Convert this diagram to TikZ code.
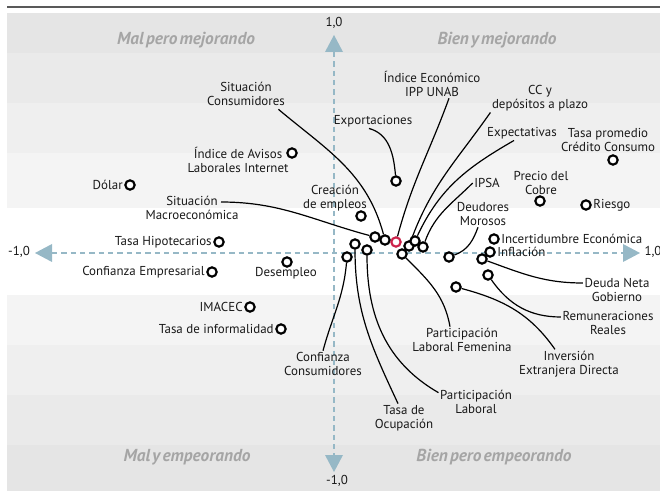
\documentclass[tikz,border=0pt]{standalone}
\usepackage{fontspec}
\setmainfont{PT Sans}
\newfontfamily\quadfont[WordSpace=0.5]{PT Sans}
\usetikzlibrary{positioning,calc}

\definecolor{axisblue}{RGB}{150,184,198}
\definecolor{quadgray}{RGB}{165,165,165}
\definecolor{ippred}{RGB}{205,35,75}
\definecolor{band1}{RGB}{229,229,229}
\definecolor{band2}{RGB}{234,234,234}
\definecolor{band3}{RGB}{239,239,239}
\definecolor{band4}{RGB}{244,244,244}

\tikzset{
    pt/.style={circle, draw=black, line width=1.6pt, fill=white, inner sep=0pt, minimum size=7pt},
    lbl/.style={font=\fontsize{9.7}{10.5}\selectfont, inner sep=1pt, align=center, text=black!90},
    quad/.style={font=\quadfont\fontsize{13}{14}\selectfont\bfseries\itshape, text=quadgray},
    conn/.style={line width=0.9pt},
    axisline/.style={axisblue, line width=1.2pt, dash pattern=on 4pt off 3pt},
}

\begin{document}
\begin{tikzpicture}[x=0.75pt, y=-0.75pt]
        \useasboundingbox (0,0) rectangle (660,491);
        % background bands
        \fill[band1] (7,13) rectangle (660,53);
        \fill[band2] (7,53) rectangle (660,103);
        \fill[band3] (7,103) rectangle (660,153);
        \fill[band4] (7,153) rectangle (660,208);
        \fill[band4] (7,295) rectangle (660,345);
        \fill[band3] (7,345) rectangle (660,395);
        \fill[band2] (7,395) rectangle (660,445);
        \fill[band1] (7,445) rectangle (660,491);
        \draw[black!65, line width=0.8pt] (7,7) -- (660,7);

        % axes
        \draw[axisline] (52,253) -- (623,253);
        \draw[axisline] (334,52) -- (334,455);
        \fill[axisblue] (334,35) -- (325,52) -- (343,52) -- cycle;
        \fill[axisblue] (334,472) -- (325,455) -- (343,455) -- cycle;
        \fill[axisblue] (35,253) -- (52,244) -- (52,262) -- cycle;
        \fill[axisblue] (640,253) -- (623,244) -- (623,262) -- cycle;
        \node[lbl] (ytop) at (334,23) {1,0};
        \node[lbl] (ybot) at (337,481) {-1,0};
        \node[lbl] (xleft) at (19,252) {-1,0};
        \node[lbl] (xright) at (653,252) {1,0};

        % quadrants
        \node[quad] (q1) at (186,40) {Mal pero mejorando};
        \node[quad] (q2) at (497,40) {Bien y mejorando};
        \node[quad] (q3) at (187,457) {Mal y empeorando};
        \node[quad] (q4) at (494,457) {Bien pero empeorando};

        % left points
        \node[pt] (dolar) at (130,185) {};
        \node[lbl, left=0pt of dolar] (ldolar) {Dólar};
        \node[pt] (avisos) at (292,153) {};
        \node[lbl] (lavisos) at (238,160) {Índice de Avisos\\Laborales Internet};
        \node[pt] (hipot) at (219,242) {};
        \node[lbl, left=0pt of hipot] (lhipot) {Tasa Hipotecarios};
        \node[pt] (confemp) at (212,272) {};
        \node[lbl, left=0pt of confemp] (lconfemp) {Confianza Empresarial};
        \node[pt] (desemp) at (287,262) {};
        \node[lbl] (ldesemp) at (286,273) {Desempleo};
        \node[pt] (imacec) at (250,307) {};
        \node[lbl, left=0pt of imacec] (limacec) {IMACEC};
        \node[pt] (inform) at (281,329) {};
        \node[lbl, left=0pt of inform] (linform) {Tasa de informalidad};

        % central cluster
        \node[pt] (export) at (396,181) {};
        \node[pt] (creac) at (361,216) {};
        \node[pt] (sitmacro) at (375,237) {};
        \node[pt] (sitcons) at (385,240) {};
        \node[pt] (ocup) at (355,244) {};
        \node[pt] (partlab) at (367,250) {};
        \node[pt] (confcons) at (347,257) {};
        \node[pt] (partfem) at (402,254) {};
        \node[pt] (cc) at (409,246) {};
        \node[pt] (expect) at (415,241) {};
        \node[pt] (ipsa) at (423,247) {};
        \node[pt, draw=ippred] (ipp) at (396,242) {};
        \node[pt] (deudores) at (449,257) {};

        % right points
        \node[pt] (tasaprom) at (613,160) {};
        \node[pt] (cobre) at (540,201) {};
        \node[pt] (riesgo) at (586,205) {};
        \node[lbl, right=0pt of riesgo] (lriesgo) {Riesgo};
        \node[pt] (incert) at (494,239) {};
        \node[lbl, right=0pt of incert] (lincert) {Incertidumbre Económica};
        \node[pt] (inflac) at (490,252) {};
        \node[lbl, right=0pt of inflac] (linflac) {Inflación};
        \node[pt] (deuda) at (482,259) {};
        \node[pt] (remun) at (488,275) {};
        \node[pt] (invers) at (456,287) {};

        % labels
        \node[lbl] (lsitcons) at (246,94) {Situación\\Consumidores};
        \node[lbl] (lsitmacro) at (192,208) {Situación\\Macroeconómica};
        \node[lbl] (lcreac) at (335,198) {Creación\\de empleos};
        \node[lbl] (lexport) at (373,121) {Exportaciones};
        \node[lbl] (lipp) at (432,84) {Índice Económico\\IPP UNAB};
        \node[lbl] (lcc) at (540,98) {CC y\\depósitos a plazo};
        \node[lbl] (lexpect) at (522,133) {Expectativas};
        \node[lbl] (ltasaprom) at (608,140) {Tasa promedio\\Crédito Consumo};
        \node[lbl] (lcobre) at (541,183) {Precio del\\Cobre};
        \node[lbl] (lipsa) at (487,183) {IPSA};
        \node[lbl] (ldeudores) at (483,214) {Deudores\\Morosos};
        \node[lbl] (ldeuda) at (617,290) {Deuda Neta\\Gobierno};
        \node[lbl] (lremun) at (608,323) {Remuneraciones\\Reales};
        \node[lbl] (linvers) at (569,364) {Inversión\\Extranjera Directa};
        \node[lbl] (lpartfem) at (462,340) {Participación\\Laboral Femenina};
        \node[lbl] (lpartlab) at (476,402) {Participación\\Laboral};
        \node[lbl] (locup) at (404,418) {Tasa de\\Ocupación};
        \node[lbl] (lconfcons) at (323,364) {Confianza\\Consumidores};

        % connectors
        \draw[conn] ($(lsitcons.south east)+(-8,2)$) to[out=-40, in=105] (sitcons);
        \draw[conn] ($(lsitmacro.center)+(29,-6)$) to[out=0, in=165] (sitmacro);
        \draw[conn] ($(lexport.south)+(-4,0)$) to[out=-15, in=95] (export);
        \draw[conn] ($(lipp.south)+(17,0)$) to[out=-110, in=75] (ipp);
        \draw[conn] (lcc.south west) to[out=-125, in=70] (cc);
        \draw[conn] ($(lexpect.south)+(-8,0)$) to[out=-150, in=65] (expect);
        \draw[conn] (lipsa.west) to[out=-135, in=70] (ipsa);
        \draw[conn] ($(ldeudores.south)+(-5,0)$) to[out=-110, in=20] (deudores);
        \draw[conn] ($(ldeuda.west)+(0,-7)$) to[out=180, in=-20] (deuda);
        \draw[conn] ($(lremun.west)+(0,-6)$) to[out=180, in=-55] (remun);
        \draw[conn] ($(linvers.north)+(-14,0)$) to[out=125, in=-15] (invers);
        \draw[conn] ($(lpartfem.north)+(-12,0)$) to[out=100, in=-45] (partfem);
        \draw[conn] ($(lpartlab.north west)+(0,4)$) to[out=150, in=-90] (partlab);
        \draw[conn] ($(locup.north)+(-6,0)$) to[out=115, in=-90] (ocup);
        \draw[conn] (lconfcons.north) to[out=75, in=-95] (confcons);
\end{tikzpicture}
\end{document}
